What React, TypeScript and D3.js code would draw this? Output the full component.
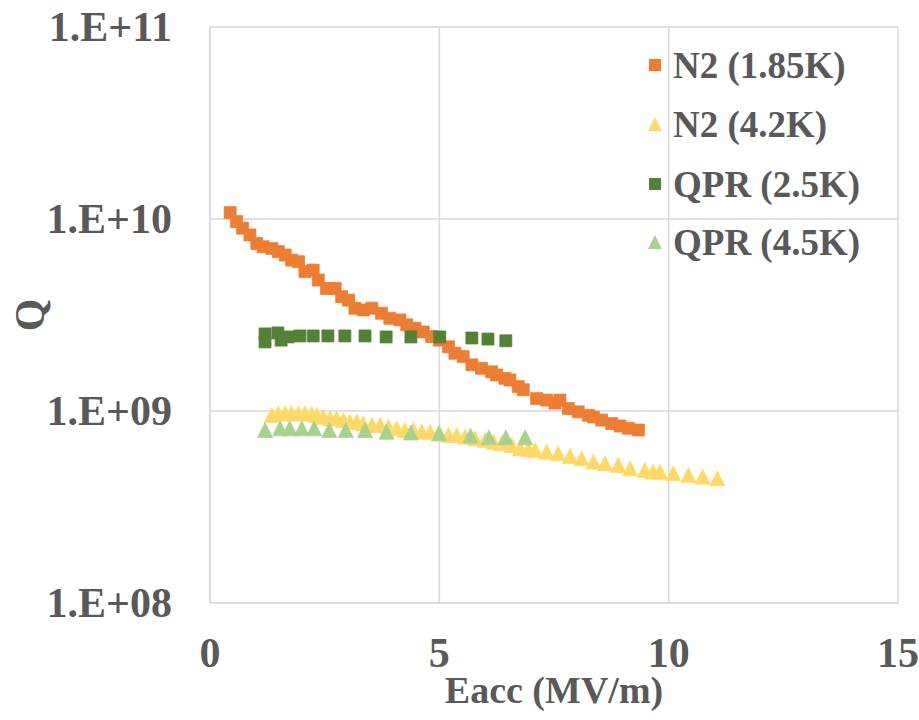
import React, { useEffect, useRef } from 'react';
import * as d3 from 'd3';

// N2 (1.85K)
const n2ColdE = [0.44, 0.58, 0.71, 0.87, 1.02, 1.16, 1.35, 1.49, 1.64, 1.78, 1.93, 2.07, 2.25, 2.36, 2.54, 2.73, 2.87, 3.02, 3.16, 3.34, 3.53, 3.74, 3.92, 4.14, 4.29, 4.47, 4.65, 4.83, 5.0, 5.2, 5.34, 5.52, 5.71, 5.92, 6.14, 6.25, 6.43, 6.54, 6.72, 6.83, 7.12, 7.34, 7.52, 7.63, 7.81, 8.03, 8.25, 8.36, 8.54, 8.76, 8.94, 9.12, 9.34];
const n2ColdQ = [1.08e10, 9.7e9, 8.96e9, 8.26e9, 7.46e9, 7.17e9, 7.03e9, 6.76e9, 6.49e9, 6.11e9, 5.99e9, 5.32e9, 5.42e9, 4.81e9, 4.35e9, 4.35e9, 3.94e9, 3.78e9, 3.43e9, 3.36e9, 3.43e9, 3.23e9, 3.04e9, 2.98e9, 2.81e9, 2.7e9, 2.58e9, 2.44e9, 2.34e9, 2.16e9, 2.0e9, 1.92e9, 1.74e9, 1.67e9, 1.6e9, 1.54e9, 1.48e9, 1.45e9, 1.34e9, 1.29e9, 1.16e9, 1.14e9, 1.1e9, 1.14e9, 1.03e9, 9.9e8, 9.5e8, 9.3e8, 8.97e8, 8.6e8, 8.35e8, 8.13e8, 7.96e8];

// N2 (4.2K)
const n2WarmE = [1.35, 1.49, 1.64, 1.78, 1.93, 2.07, 2.22, 2.33, 2.47, 2.62, 2.76, 2.91, 3.05, 3.2, 3.34, 3.53, 3.71, 3.89, 4.07, 4.25, 4.43, 4.62, 4.8, 4.98, 5.2, 5.38, 5.56, 5.78, 6.0, 6.18, 6.36, 6.58, 6.76, 6.94, 7.09, 7.34, 7.59, 7.85, 8.1, 8.36, 8.61, 8.9, 9.16, 9.48, 9.66, 9.81, 10.1, 10.43, 10.74, 11.06];
const n2WarmQ = [9.53e8, 9.73e8, 9.73e8, 9.73e8, 9.73e8, 9.73e8, 9.65e8, 9.53e8, 9.33e8, 9.15e8, 9.15e8, 8.97e8, 8.79e8, 8.79e8, 8.62e8, 8.45e8, 8.45e8, 8.28e8, 8.12e8, 7.96e8, 7.96e8, 7.8e8, 7.8e8, 7.65e8, 7.5e8, 7.5e8, 7.35e8, 7.21e8, 7.07e8, 6.92e8, 6.79e8, 6.65e8, 6.4e8, 6.33e8, 6.27e8, 6.14e8, 6.02e8, 5.83e8, 5.67e8, 5.45e8, 5.35e8, 5.24e8, 5.03e8, 4.93e8, 4.83e8, 4.83e8, 4.74e8, 4.64e8, 4.55e8, 4.46e8];

// QPR (2.5K)
const qprColdE = [1.2, 1.2, 1.48, 1.55, 1.7, 1.96, 2.25, 2.57, 2.94, 3.38, 3.84, 4.38, 5.01, 5.71, 6.06, 6.45];
const qprColdQ = [2.52e9, 2.29e9, 2.55e9, 2.34e9, 2.43e9, 2.46e9, 2.46e9, 2.46e9, 2.46e9, 2.46e9, 2.43e9, 2.43e9, 2.43e9, 2.4e9, 2.37e9, 2.32e9];

// QPR (4.5K)
const qprWarmE = [1.2, 1.53, 1.74, 2.0, 2.27, 2.6, 2.96, 3.38, 3.85, 4.38, 5.0, 5.68, 6.08, 6.45, 6.87];
const qprWarmQ = [7.96e8, 8.12e8, 8.12e8, 8.12e8, 8.12e8, 7.96e8, 7.96e8, 7.96e8, 7.8e8, 7.72e8, 7.65e8, 7.43e8, 7.29e8, 7.29e8, 7.29e8];

const xTicks = [0, 5, 10, 15];
const yTicks = [1e8, 1e9, 1e10, 1e11];
const yTickLabels = ['1.E+08', '1.E+09', '1.E+10', '1.E+11'];

const series = [
    { name: 'N2 (1.85K)', e: n2ColdE, q: n2ColdQ, shape: 'square', color: '#ED7D31' },
    { name: 'N2 (4.2K)', e: n2WarmE, q: n2WarmQ, shape: 'triangle', color: '#FFD966' },
    { name: 'QPR (2.5K)', e: qprColdE, q: qprColdQ, shape: 'square', color: '#548235' },
    { name: 'QPR (4.5K)', e: qprWarmE, q: qprWarmQ, shape: 'triangle', color: '#A9D18E' },
];

const FONT = '"Liberation Serif", "Times New Roman", serif';
const TEXT = '#595959';

const marker = (shape, size) => {
    const h = size / 2;
    if (shape === 'square') return `M${-h},${-h}H${h}V${h}H${-h}Z`;
    return `M0,${-h}L${h},${h}L${-h},${h}Z`;
};

const App = () => {
    const svgRef = useRef();

    useEffect(() => {
        const svg = d3.select(svgRef.current);
        svg.selectAll('*').remove();

        const margin = { top: 27, right: 21, bottom: 117, left: 210 };
        const width = 919;
        const height = 720;
        const innerWidth = width - margin.left - margin.right;
        const innerHeight = height - margin.top - margin.bottom;

        const x = d3.scaleLinear().domain([0, 15]).range([0, innerWidth]);
        const y = d3.scaleLog().domain([1e8, 1e11]).range([innerHeight, 0]);

        const g = svg.append('g').attr('transform', `translate(${margin.left},${margin.top})`);

        // gridlines
        g.selectAll('.vgrid').data(xTicks.slice(1)).enter().append('line')
            .attr('x1', d => x(d)).attr('x2', d => x(d))
            .attr('y1', 0).attr('y2', innerHeight)
            .attr('stroke', '#d9d9d9').attr('stroke-width', 1.5);
        g.selectAll('.hgrid').data(yTicks.slice(1)).enter().append('line')
            .attr('x1', 0).attr('x2', innerWidth)
            .attr('y1', d => y(d)).attr('y2', d => y(d))
            .attr('stroke', '#d9d9d9').attr('stroke-width', 1.5);

        // axis lines
        g.append('line').attr('x1', 0).attr('x2', innerWidth).attr('y1', innerHeight).attr('y2', innerHeight)
            .attr('stroke', '#cfcfcf').attr('stroke-width', 1.5);
        g.append('line').attr('x1', 0).attr('x2', 0).attr('y1', 0).attr('y2', innerHeight)
            .attr('stroke', '#cfcfcf').attr('stroke-width', 1.5);

        // tick labels
        g.selectAll('.xlab').data(xTicks).enter().append('text')
            .attr('x', d => x(d)).attr('y', innerHeight + 64)
            .attr('text-anchor', 'middle')
            .attr('font-family', FONT).attr('font-weight', 'bold').attr('font-size', 42)
            .attr('fill', TEXT).text(d => d);
        g.selectAll('.ylab').data(yTicks).enter().append('text')
            .attr('x', -38).attr('y', d => y(d) + 14)
            .attr('text-anchor', 'end')
            .attr('font-family', FONT).attr('font-weight', 'bold').attr('font-size', 42)
            .attr('fill', TEXT).text((d, i) => yTickLabels[i]);

        // axis titles
        g.append('text')
            .attr('x', innerWidth / 2).attr('y', innerHeight + 100)
            .attr('text-anchor', 'middle')
            .attr('font-family', FONT).attr('font-weight', 'bold').attr('font-size', 38)
            .attr('fill', TEXT).text('Eacc (MV/m)');
        g.append('text')
            .attr('transform', `translate(${44 - margin.left},${innerHeight / 2}) rotate(-90)`)
            .attr('text-anchor', 'middle')
            .attr('font-family', FONT).attr('font-weight', 'bold').attr('font-size', 42)
            .attr('fill', TEXT).text('Q');

        // points
        series.forEach(s => {
            const pts = s.e.map((e, i) => [e, s.q[i]]);
            g.append('g').selectAll('path').data(pts).enter().append('path')
                .attr('d', marker(s.shape, s.shape === 'square' ? 12 : 15))
                .attr('transform', d => `translate(${x(d[0])},${y(d[1])})`)
                .attr('fill', s.color)
                .attr('stroke', s.color).attr('stroke-width', 0.75);
        });

        // legend
        const legend = svg.append('g').attr('transform', 'translate(655,0)');
        const rowY = [65, 124, 184, 242];
        series.forEach((s, i) => {
            legend.append('path')
                .attr('d', marker(s.shape, s.shape === 'square' ? 12 : 14))
                .attr('transform', `translate(0,${rowY[i]})`)
                .attr('fill', s.color);
            legend.append('text')
                .attr('x', 18).attr('y', rowY[i] + 13)
                .attr('font-family', FONT).attr('font-weight', 'bold').attr('font-size', 37)
                .attr('fill', TEXT).text(s.name);
        });
    }, []);

    return (
        <div style={{ position: 'absolute', left: 0, top: 0 }}>
            <svg ref={svgRef} width="919" height="720" style={{ display: 'block', background: '#fff' }}></svg>
        </div>
    );
};

export default App;
